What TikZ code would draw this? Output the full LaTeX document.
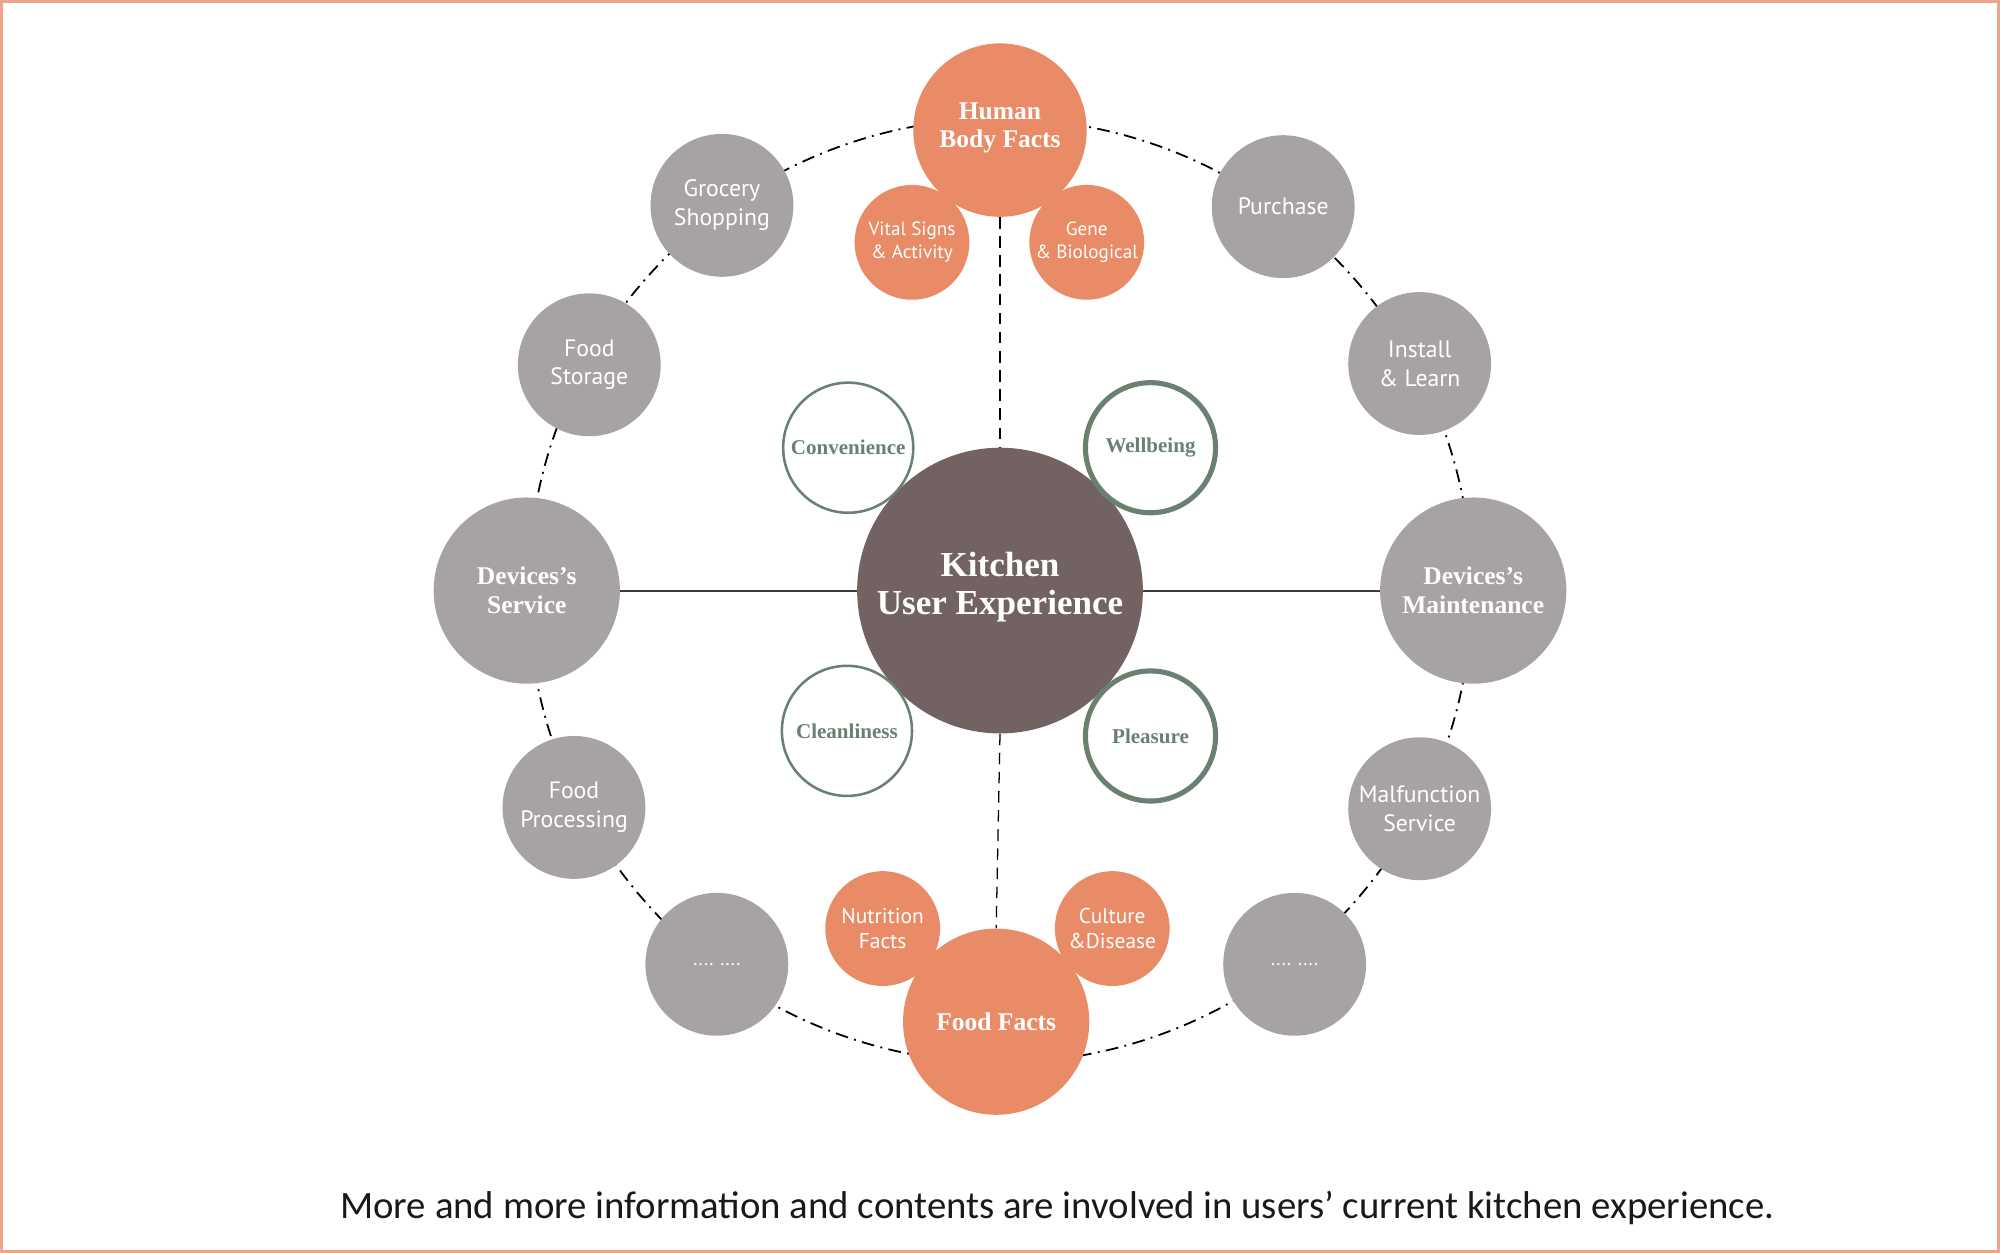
\documentclass[tikz,border=0pt]{standalone}
\usepackage{fontspec}
\setmainfont{Liberation Serif}
\newfontfamily\ptsans{PT Sans}
\newfontfamily\capfont{Carlito}
\usetikzlibrary{backgrounds}
\definecolor{ringgray}{HTML}{A7A3A2}
\definecolor{coreclr}{HTML}{736262}
\definecolor{orng}{HTML}{E88B66}
\definecolor{grn}{HTML}{6A8172}
\definecolor{frameclr}{HTML}{EEA587}
\definecolor{lineclr}{HTML}{3C3C3C}
\tikzset{
  bub/.style={circle, inner sep=0pt, align=center, text=white},
  graybub/.style={bub, fill=ringgray, minimum size=112pt, font=\ptsans\fontsize{18.6}{22.5}\selectfont},
  graybig/.style={bub, fill=ringgray, minimum size=146pt, font=\bfseries\fontsize{20}{23}\selectfont},
  orbig/.style={bub, fill=orng, minimum size=#1, font=\bfseries\fontsize{20}{22}\selectfont},
  orsmall/.style={bub, fill=orng, minimum size=90pt},
  valthin/.style={bub, draw=grn, line width=2pt, fill=white, minimum size=102pt, text=grn, font=\bfseries\fontsize{16.5}{19}\selectfont},
  valthick/.style={valthin, line width=4pt},
  ringline/.style={line width=1.4pt, dash pattern=on 10pt off 5pt on 1.5pt off 5pt},
  vdash/.style={line width=1pt, dash pattern=on 9pt off 6pt},
  hline/.style={draw=lineclr, line width=1.6pt},
}
\begin{document}
\begin{tikzpicture}[x=1pt,y=-1pt]
\useasboundingbox (0,0) rectangle (1568,982);
\draw[frameclr, line width=2pt] (1,1) rectangle (1567,981);

% centre
\node[bub, fill=coreclr, minimum size=224pt, font=\bfseries\fontsize{27.5}{30}\selectfont] (kux) at (784,463) {\raisebox{2.5pt}[\height][\depth]{\parbox{210pt}{\centering Kitchen\\User Experience}}};

% top / bottom
\node[orbig=136pt] (hbf) at (784,102) {\raisebox{2pt}[\height][\depth]{\parbox{120pt}{\centering Human\\Body Facts}}};
\node[orsmall, font=\ptsans\fontsize{15}{18}\selectfont] (vital) at (715,190) {Vital Signs\\\& Activity};
\node[orsmall, font=\ptsans\fontsize{15}{18}\selectfont] (gene) at (852,190) {Gene\\\& Biological};
\node[orbig=146pt] (food) at (781,801) {Food Facts};
\node[orsmall, font=\ptsans\fontsize{16.8}{20}\selectfont] (nutri) at (692,728) {Nutrition\\Facts};
\node[orsmall, font=\ptsans\fontsize{16.8}{20}\selectfont] (cult) at (872,728) {Culture\\\&Disease};

% left ring
\node[graybub] (groc) at (566,161) {Grocery\\Shopping};
\node[graybub] (stor) at (462,286) {Food\\Storage};
\node[graybig] (dserv) at (413,463) {Devices’s\\Service};
\node[graybub] (proc) at (450,633) {Food\\Processing};
\node[graybub, font=\ptsans\fontsize{15}{18}\selectfont] (lmore) at (562,756) {.... ....};

% right ring
\node[graybub] (purch) at (1006,162) {Purchase};
\node[graybub] (inst) at (1113,285) {Install\\\& Learn};
\node[graybig] (dmain) at (1155,463) {Devices’s\\Maintenance};
\node[graybub] (malf) at (1113,634) {Malfunction\\Service};
\node[graybub, font=\ptsans\fontsize{15}{18}\selectfont] (rmore) at (1015,756) {.... ....};

% values
\node[valthin] (conv) at (665,351) {Convenience};
\node[valthick] (well) at (902,351) {Wellbeing};
\node[valthin] (clean) at (664,573) {Cleanliness};
\node[valthick] (pleas) at (902,577) {Pleasure};

\begin{pgfonlayer}{background}
  \draw[ringline] (kux.center) circle[radius=370pt];
  \draw[vdash] (hbf.south) -- (kux.north);
  \draw[vdash] (kux.south) -- (food.north);
  \draw[hline] (dserv.east) -- (kux.west);
  \draw[hline] (kux.east) -- (dmain.west);
\end{pgfonlayer}

\node[anchor=base, text=black!90, font=\capfont\fontsize{30.4}{34}\selectfont] (cap) at (829,955) {More and more information and contents are involved in users’ current kitchen experience.};
\end{tikzpicture}
\end{document}
